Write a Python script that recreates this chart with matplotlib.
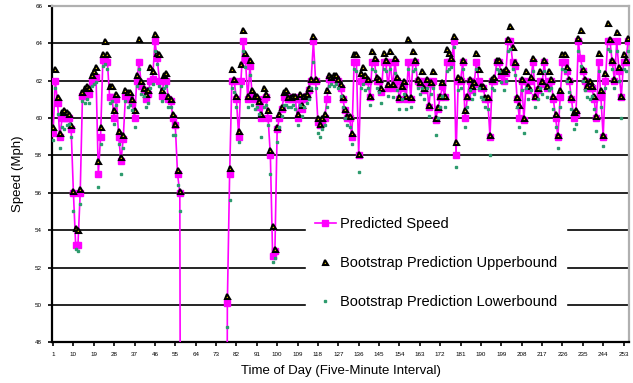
#%% IMPORTS ~~~~~~~~~~~~~~~~~~~~~~~~~~~~~~~~~~~~~~~~~~~~
import numpy as np
import matplotlib
matplotlib.use('Agg')
import matplotlib.pyplot as plt

#%% DATA ~~~~~~~~~~~~~~~~~~~~~~~~~~~~~~~~~~~~~~~~~~~~
nan = float('nan')

# predicted speed, one value per five-minute interval (0 = no reading, off the chart)
predicted = [
    59.2, 62.0, 60.8, 59.0, 60.0, 60.0, 60.0, 60.0, 59.4, 56.0,
    53.2, 53.2, 56.0, 61.2, 61.2, 61.3, 61.3, 62.0, 62.1, 62.2,
    57.0, 59.0, 63.1, 63.2, 63.0, 61.1, 61.1, 60.0, 61.0, 59.0,
    57.7, 58.9, 61.2, 61.0, 61.0, 60.8, 60.0, 62.0, 63.0, 61.7,
    61.5, 61.0, 61.3, 62.0, 62.1, 64.1, 63.2, 62.0, 61.2, 62.0,
    62.0, 61.0, 60.9, 60.0, 59.6, 57.0, 56.0, 0, 0, 0,
    0, 0, 0, 0, 0, 0, 0, 0, 0, 0,
    0, 0, 0, 0, 0, 0, 0, 50.1, 57.0, 62.0,
    62.0, 61.0, 59.0, 62.0, 64.1, 63.1, 61.0, 62.8, 61.1, 61.0,
    61.0, 60.6, 60.0, 61.0, 61.1, 60.0, 58.0, 52.6, 52.9, 59.4,
    60.0, 60.5, 61.1, 61.1, 61.0, 61.0, 61.1, 61.0, 60.0, 61.1,
    60.5, 61.0, 61.2, 61.5, 62.0, 64.1, 62.0, 59.8, 59.6, 59.8,
    60.0, 61.0, 62.1, 62.1, 62.1, 62.1, 62.0, 61.6, 61.0, 60.4,
    60.0, 60.0, 59.0, 63.0, 63.0, 58.0, 62.0, 62.2, 62.0, 62.0,
    61.1, 63.0, 63.0, 62.0, 62.0, 61.4, 63.0, 63.0, 61.6, 63.0,
    61.6, 63.0, 62.0, 61.0, 61.6, 61.8, 61.0, 63.0, 61.0, 63.0,
    63.0, 62.0, 61.8, 62.0, 61.5, 62.0, 60.6, 61.8, 62.0, 59.9,
    60.5, 61.1, 61.7, 61.1, 63.0, 63.0, 63.0, 64.1, 58.0, 62.0,
    62.0, 63.0, 60.0, 61.1, 62.0, 61.5, 61.8, 63.0, 62.0, 61.6,
    61.6, 61.0, 61.0, 59.0, 62.0, 62.0, 63.0, 63.0, 62.3, 62.0,
    62.4, 64.1, 64.1, 63.0, 62.8, 61.0, 60.0, 62.0, 59.9, 62.0,
    61.5, 62.0, 63.0, 61.1, 61.5, 62.0, 61.8, 63.0, 61.6, 62.0,
    62.0, 61.0, 60.0, 59.0, 61.1, 63.0, 63.0, 62.5, 62.0, 61.0,
    60.0, 60.2, 64.1, 63.2, 62.5, 62.0, 61.6, 61.6, 61.6, 61.0,
    60.0, 63.0, 61.1, 59.0, 62.0, 64.1, 64.1, 63.0, 62.0, 64.1,
    62.5, 61.1, 63.0, 63.0, 64.1,
]

upper = [
    59.5, 62.6, 61.1, 59.2, 60.3, 60.4, 60.3, 60.2, 59.6, 56.1,
    54.1, 54.0, 56.2, 61.4, 61.6, 61.7, 61.6, 62.3, 62.5, 62.7,
    57.7, 59.5, 63.4, 64.1, 63.4, 61.7, 61.7, 60.4, 61.3, 59.3,
    57.9, 59.1, 61.5, 61.4, 61.4, 61.0, 60.4, 62.3, 64.2, 62.0,
    61.6, 61.3, 61.5, 62.7, 62.5, 64.5, 63.5, 63.4, 61.5, 62.3,
    62.4, 61.2, 61.0, 60.2, 59.7, 57.2, 56.1, nan, nan, nan,
    nan, nan, nan, nan, nan, nan, nan, nan, nan, nan,
    nan, nan, nan, nan, nan, nan, nan, 50.5, 57.3, 62.6,
    62.1, 61.2, 59.3, 62.9, 64.7, 63.5, 61.2, 63.1, 61.5, 61.2,
    61.2, 60.9, 60.2, 61.6, 61.3, 60.4, 58.3, 54.2, 53.0, 59.5,
    60.2, 60.6, 61.4, 61.5, 61.1, 61.1, 61.2, 61.2, 60.2, 61.3,
    60.7, 61.2, 61.3, 61.6, 62.1, 64.4, 62.1, 60.0, 59.7, 60.0,
    60.2, 61.5, 62.3, 62.2, 62.3, 62.3, 62.1, 61.8, 61.1, 60.5,
    60.1, 60.1, 59.2, 63.4, 63.4, 58.1, 62.4, 62.7, 62.3, 62.1,
    61.2, 63.6, 63.2, 62.2, 62.1, 61.6, 63.5, 63.1, 61.8, 63.6,
    61.8, 63.2, 62.2, 61.1, 61.7, 62.0, 61.2, 64.2, 61.1, 63.6,
    63.1, 62.1, 61.9, 62.5, 61.6, 62.1, 60.7, 61.9, 62.5, 60.0,
    60.6, 61.2, 61.9, 61.2, 63.7, 63.5, 63.2, 64.4, 58.7, 62.2,
    62.1, 63.1, 60.4, 61.2, 62.1, 61.7, 61.9, 63.5, 62.6, 61.7,
    61.7, 61.1, 61.1, 59.1, 62.1, 62.2, 63.1, 63.1, 62.5, 62.5,
    62.6, 64.2, 64.9, 63.8, 63.0, 61.1, 60.7, 62.1, 60.0, 62.5,
    61.7, 62.2, 63.2, 61.2, 61.6, 62.5, 62.0, 63.1, 61.7, 62.5,
    62.1, 61.2, 60.2, 59.1, 61.5, 63.4, 63.4, 62.7, 62.1, 61.1,
    60.3, 60.4, 64.3, 64.7, 62.6, 62.1, 61.7, 62.0, 61.7, 61.2,
    60.1, 63.5, 61.5, 59.1, 62.4, 65.1, 64.2, 63.1, 62.1, 64.6,
    62.7, 61.2, 63.4, 63.1, 64.3,
]

lower = [
    58.8, 61.6, 60.2, 58.4, 59.5, 59.4, 59.6, 59.7, 59.0, 55.0,
    53.0, 52.9, 55.4, 60.9, 60.8, 61.0, 60.8, 61.7, 61.8, 61.9,
    56.3, 58.6, 62.8, 62.9, 62.6, 60.8, 60.9, 59.7, 60.7, 58.6,
    57.0, 58.4, 60.9, 60.6, 60.7, 60.4, 59.5, 61.7, 62.6, 61.3,
    61.2, 60.6, 60.8, 61.6, 61.8, 63.6, 62.9, 61.7, 60.9, 61.6,
    61.7, 60.6, 60.6, 59.1, 59.1, 56.4, 55.0, nan, nan, nan,
    nan, nan, nan, nan, nan, nan, nan, nan, nan, nan,
    nan, nan, nan, nan, nan, nan, nan, 48.8, 55.6, 61.6,
    61.4, 60.6, 58.7, 61.7, 63.6, 62.7, 60.6, 62.3, 60.7, 60.5,
    60.6, 60.2, 59.0, 60.6, 60.7, 59.6, 57.0, 52.3, 52.5, 58.7,
    59.5, 60.1, 60.7, 60.7, 60.6, 60.6, 60.7, 60.5, 59.6, 60.7,
    60.1, 60.6, 60.8, 61.0, 61.6, 63.0, 61.6, 59.2, 59.0, 59.4,
    59.6, 60.6, 61.7, 61.8, 61.7, 61.8, 61.6, 61.2, 60.6, 60.0,
    59.6, 59.5, 58.6, 62.6, 62.5, 57.1, 61.6, 61.8, 61.5, 61.6,
    60.7, 62.6, 62.5, 61.6, 61.4, 60.8, 62.6, 62.5, 61.2, 62.6,
    61.1, 62.4, 61.5, 60.5, 61.0, 61.3, 60.5, 62.6, 60.6, 62.5,
    62.6, 61.6, 61.3, 61.6, 61.0, 61.6, 60.1, 61.3, 61.6, 59.1,
    60.0, 60.6, 61.2, 60.6, 62.5, 62.6, 62.7, 63.8, 57.4, 61.5,
    61.6, 62.6, 59.5, 60.6, 61.5, 61.0, 61.3, 62.6, 61.6, 61.1,
    61.0, 60.6, 60.5, 58.0, 61.6, 61.5, 62.6, 62.5, 61.9, 61.5,
    62.0, 63.6, 63.7, 62.6, 62.3, 60.6, 59.5, 61.5, 59.2, 61.6,
    61.0, 61.5, 62.5, 60.6, 61.0, 61.6, 61.3, 62.5, 61.1, 61.5,
    61.6, 60.5, 59.5, 58.4, 60.6, 62.6, 62.5, 62.0, 61.4, 60.5,
    59.4, 59.7, 63.6, 62.8, 62.0, 61.5, 61.1, 61.0, 61.2, 60.5,
    59.3, 62.5, 60.6, 58.5, 61.6, 63.7, 63.6, 62.6, 61.6, 63.6,
    62.0, 60.0, 62.6, 62.5, 63.6,
]

y_ticks = [48, 50, 52, 54, 56, 58, 60, 62, 64, 66]
x_tick_step = 9

#%% CONFIGURATION ~~~~~~~~~~~~~~~~~~~~~~~~~~~~~~~~~~~~~~~~~~~~
plt.rcParams['font.family'] = ['Liberation Sans', 'DejaVu Sans']

#%% PLOT ~~~~~~~~~~~~~~~~~~~~~~~~~~~~~~~~~~~~~~~~~~~~
def main():
    n = len(predicted)
    x = np.arange(1, n + 1)

    fig = plt.figure(figsize=(6.33, 3.83), dpi=100)
    ax = fig.add_axes([0.082, 0.106, 0.912, 0.879])

    ax.plot(x, predicted, color='#ff00ff', lw=1.2, marker='s', ms=3.8,
            mec='#ff00ff', mfc='#ff00ff', label='Predicted Speed', zorder=3)
    ax.plot(x, upper, ls='none', marker='^', ms=3.6, mfc='#ffe600', mec='black',
            mew=1.5, label='Bootstrap Prediction Upperbound', zorder=4)
    ax.plot(x, lower, ls='none', marker='s', ms=1.7, mfc='#2e9b6e', mec='#2e9b6e',
            label='Bootstrap Prediction Lowerbound', zorder=4)

    ax.set_xlim(0.5, n + 0.5)
    ax.set_ylim(48, 66)
    ax.set_yticks(y_ticks)
    ax.set_yticklabels([str(v) for v in y_ticks], fontsize=4.5)
    xt = list(range(1, n + 1, x_tick_step))
    ax.set_xticks(xt)
    ax.set_xticklabels([str(v) for v in xt], fontsize=4.5)
    ax.tick_params(direction='out', length=3, width=1.2, color='black', pad=4)

    # horizontal grid like the Excel chart
    for v in y_ticks[1:-1]:
        ax.axhline(v, color='black', lw=1.2, zorder=1)

    for side in ['left', 'bottom']:
        ax.spines[side].set_color('black')
        ax.spines[side].set_linewidth(1.6)
    for side in ['top', 'right']:
        ax.spines[side].set_color('#b0b0b0')
        ax.spines[side].set_linewidth(1.6)

    ax.set_ylabel('Speed (Mph)', fontsize=9.5, labelpad=8)
    ax.set_xlabel('Time of Day (Five-Minute Interval)', fontsize=9.5, labelpad=6)

    leg = ax.legend(loc='lower left', bbox_to_anchor=(0.44, 0.072), fontsize=10.5,
                    frameon=True, facecolor='white', edgecolor='white', framealpha=1,
                    fancybox=False, labelspacing=1.72, handlelength=1.45,
                    handletextpad=0.3, borderpad=0.6, borderaxespad=0)
    leg.set_zorder(6)

    fig.savefig('out.png', dpi=100)
    plt.close(fig)

#%% SELF-RUN ~~~~~~~~~~~~~~~~~~~~~~~~~~~~~~~~~~~~~~~~~~~~
if __name__ == "__main__":
    main()
